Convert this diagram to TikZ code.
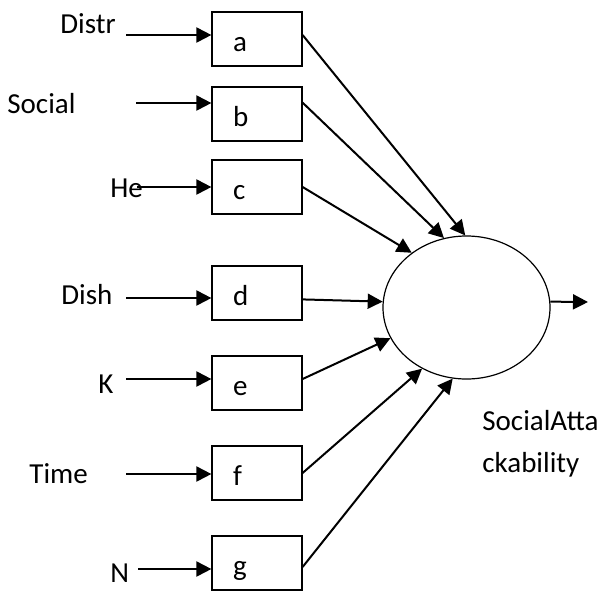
\documentclass[tikz,border=0pt]{standalone}
\usepackage{fontspec}
\setmainfont{Carlito}
\usetikzlibrary{shapes.geometric,arrows.meta}
\tikzset{
  box/.style={draw=black, line width=0.6pt, rectangle, minimum width=45pt, minimum height=27pt,
    inner xsep=10.5pt, text width=24pt, align=left, text height=12pt, text depth=0pt,
    font=\fontsize{14.5}{17}\selectfont},
  sum/.style={ellipse, draw=black, line width=0.6pt, minimum width=83.5pt, minimum height=71.5pt, inner sep=0pt},
  lab/.style={inner sep=0pt, anchor=base west, font=\fontsize{14.5}{21}\selectfont},
  arr/.style={draw=black, line width=1pt, -{Triangle[length=7.5pt,width=7.5pt]}},
}
\begin{document}
\begin{tikzpicture}[x=0.5pt,y=-0.5pt]
  \useasboundingbox (0,0) rectangle (600,590);
  % boxes
  \node[box] (a) at (257,39) {a};
  \node[box] (b) at (257,114) {b};
  \node[box] (c) at (257,187) {c};
  \node[box] (d) at (257,293) {d};
  \node[box] (e) at (257,383) {e};
  \node[box] (f) at (257,473) {f};
  \node[box] (g) at (257,563) {g};
  \node[sum] (sa) at (466.5,307.5) {};
  % input names
  \node[lab] (ldistr) at (60,33) {Distr};
  \node[lab] (lsocial) at (7,113) {Social};
  \node[lab] (lhe) at (110,197) {He};
  \node[lab] (ldish) at (61,304) {Dish};
  \node[lab] (lk) at (98,393) {K};
  \node[lab] (ltime) at (29,483) {Time};
  \node[lab] (ln) at (110,582) {N};
  \node[lab, align=left] (lsa) at (482,472) {SocialAtta\\ckability};
  % arrow starts
  \coordinate (ina) at (126,35);
  \coordinate (inb) at (136,103);
  \coordinate (inc) at (137,187);
  \coordinate (ind) at (126,298);
  \coordinate (ine) at (126,379);
  \coordinate (inf) at (126,474);
  \coordinate (ing) at (138,569);
  \coordinate (out) at (588,302);
  \foreach \n in {a,b,c,d,e,f,g}
    \draw[arr] (in\n) -- (\n.west |- in\n);
  \foreach \s/\t in {a.5/91, b.14/108, c.0/135, d.352/176, e.5/202, f.0/234, g.355/259}
    \draw[arr] (\s) -- (sa.\t);
  \draw[arr] (sa.4) -- (out);
\end{tikzpicture}
\end{document}
